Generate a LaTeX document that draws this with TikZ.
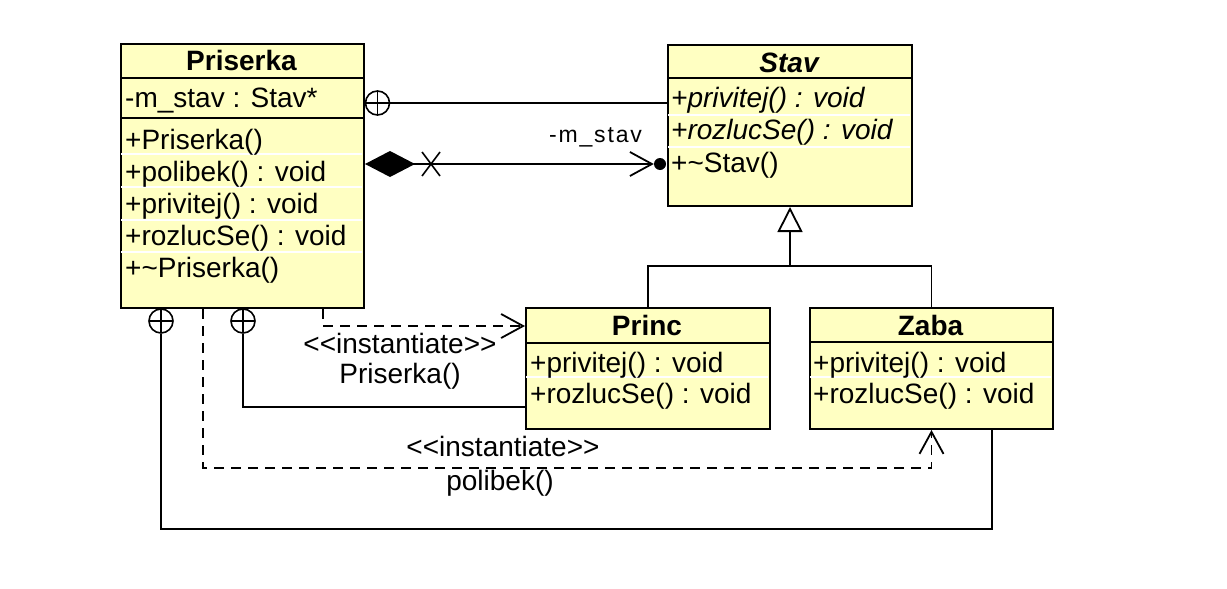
\documentclass[tikz,border=0pt]{standalone}
\usepackage{fontspec}
\setmainfont{Liberation Sans}
\usetikzlibrary{arrows.meta}
\definecolor{clsfill}{RGB}{255,255,194}
\begin{document}
\begin{tikzpicture}[x=1pt,y=-1pt,
  cls/.style={draw=black, fill=clsfill, line width=2pt, inner sep=0pt, anchor=north west},
  sep/.style={draw=black, line width=2pt},
  wsep/.style={draw=white, line width=1.5pt},
  txt/.style={anchor=base west, inner sep=0pt, font=\fontsize{28}{33}\selectfont},
  ttl/.style={anchor=base, inner sep=0pt, font=\fontsize{28}{33}\selectfont\bfseries},
  lbl/.style={anchor=base, inner sep=0pt, font=\fontsize{28}{33}\selectfont},
  conn/.style={draw=black, line width=1.8pt},
  dep/.style={conn, dash pattern=on 10pt off 7pt},
  vtip/.style={-{Straight Barb[length=22pt,width=24pt]}},
  nest/.style={circle, draw=black, line width=1.6pt, fill=white, minimum size=24pt, inner sep=0pt,
    path picture={\draw[line width=1.6pt] (path picture bounding box.north) -- (path picture bounding box.south)
      (path picture bounding box.west) -- (path picture bounding box.east);}}
]
\fill[white] (0,0) rectangle (1227,589);
\useasboundingbox (0,0) rectangle (1227,589);

% ---- Priserka
\node[cls, minimum width=243pt, minimum height=264pt] (pri) at (120,43) {};
\draw[sep] (120,78) -- (363,78);
\draw[sep] (120,118) -- (363,118);
\foreach \yy in {154,187,220,252} \draw[wsep] (121,\yy) -- (362,\yy);
\node[ttl] (prit) at (241.5,70) {Priserka};
\node[txt] (pria) at (125,107) {-m\_stav : Stav*};
\node[txt] (prim1) at (125,149) {+Priserka()};
\node[txt] (prim2) at (125,181) {+polibek() : void};
\node[txt] (prim3) at (125,213) {+privitej() : void};
\node[txt] (prim4) at (125,245) {+rozlucSe() : void};
\node[txt] (prim5) at (125,277) {+\textasciitilde Priserka()};

% ---- Stav
\node[cls, minimum width=244pt, minimum height=161pt] (stav) at (667,44) {};
\draw[sep] (667,78) -- (911,78);
\foreach \yy in {115,147} \draw[wsep] (668,\yy) -- (910,\yy);
\node[ttl, font=\fontsize{28}{33}\selectfont\bfseries\itshape] (stavt) at (789,72) {Stav};
\node[txt, font=\fontsize{28}{33}\selectfont\itshape] (stavm1) at (671,107) {+privitej() : void};
\node[txt, font=\fontsize{28}{33}\selectfont\itshape] (stavm2) at (671,139) {+rozlucSe() : void};
\node[txt] (stavm3) at (671,172) {+\textasciitilde Stav()};

% ---- Princ
\node[cls, minimum width=244pt, minimum height=121pt] (princ) at (525,307) {};
\draw[sep] (525,343) -- (769,343);
\draw[wsep] (526,377) -- (768,377);
\node[ttl] (princt) at (647,335) {Princ};
\node[txt] (princm1) at (530,372) {+privitej() : void};
\node[txt] (princm2) at (530,403) {+rozlucSe() : void};

% ---- Zaba
\node[cls, minimum width=243pt, minimum height=121pt] (zaba) at (809,307) {};
\draw[sep] (809,342) -- (1052,342);
\draw[wsep] (810,377) -- (1051,377);
\node[ttl] (zabat) at (930.5,335) {Zaba};
\node[txt] (zabam1) at (813,372) {+privitej() : void};
\node[txt] (zabam2) at (813,403) {+rozlucSe() : void};

% ---- helper coordinates
\coordinate (ny) at (0,103);
\coordinate (cy) at (0,164);
\coordinate (gy) at (0,266);
\coordinate (d1x) at (323,0);
\coordinate (d1y) at (0,326);
\coordinate (d2x) at (203,0);
\coordinate (d2y) at (0,468);
\coordinate (py) at (0,407);
\coordinate (bx) at (992,0);
\coordinate (by) at (0,529);

% ---- nesting Priserka - Stav
\node[nest] (np1) at (377.5,103) {};
\draw[conn] (np1.east) -- (stav.west |- ny);

% ---- composition Priserka - Stav
\node[circle, fill=black, inner sep=0pt, minimum size=12pt] (dot) at (660,164) {};
\draw[conn, {Diamond[length=50pt,width=26pt]}-{Straight Barb[length=22pt,width=24pt]}] (pri.east |- cy) -- (dot.west);
\coordinate (xm) at (431,164);
\draw[conn, line width=1.6pt] ([shift={(-9,-12)}]xm) -- ([shift={(9,12)}]xm)
  ([shift={(-9,12)}]xm) -- ([shift={(9,-12)}]xm);
\node[lbl, font=\fontsize{23}{28}\selectfont\addfontfeature{LetterSpace=8}] (mlbl) at (595.5,142) {-m\_stav};

% ---- generalization
\draw[conn] (princ.north) -- (princ.north |- gy) -- (zaba.north |- gy) -- (zaba.north);
\draw[conn, -{Triangle[open, fill=white, length=25pt, width=25pt]}] (stav.south |- gy) -- (stav.south);

% ---- instantiate Priserka -> Princ
\draw[dep, vtip] (pri.south -| d1x) -- (d1x |- d1y) -- (princ.west |- d1y);
\node[lbl] (i1a) at (400,353) {<\kern0pt<instantiate>\kern0pt>};
\node[lbl] (i1b) at (400,383) {Priserka()};

% ---- instantiate Priserka -> Zaba
\draw[dep, vtip] (pri.south -| d2x) -- (d2x |- d2y) -- (zaba.south |- d2y) -- (zaba.south);
\node[lbl] (i2a) at (503,456) {<\kern0pt<instantiate>\kern0pt>};
\node[lbl] (i2b) at (500,490) {polibek()};

% ---- nesting Priserka - Princ
\node[nest] (np3) at (243,321) {};
\draw[conn] (np3.south) -- (np3.south |- py) -- (princ.west |- py);

% ---- nesting Priserka - Zaba
\node[nest] (np2) at (161,321) {};
\draw[conn] (np2.south) -- (np2.south |- by) -- (bx |- by) -- (zaba.south -| bx);
\end{tikzpicture}
\end{document}
